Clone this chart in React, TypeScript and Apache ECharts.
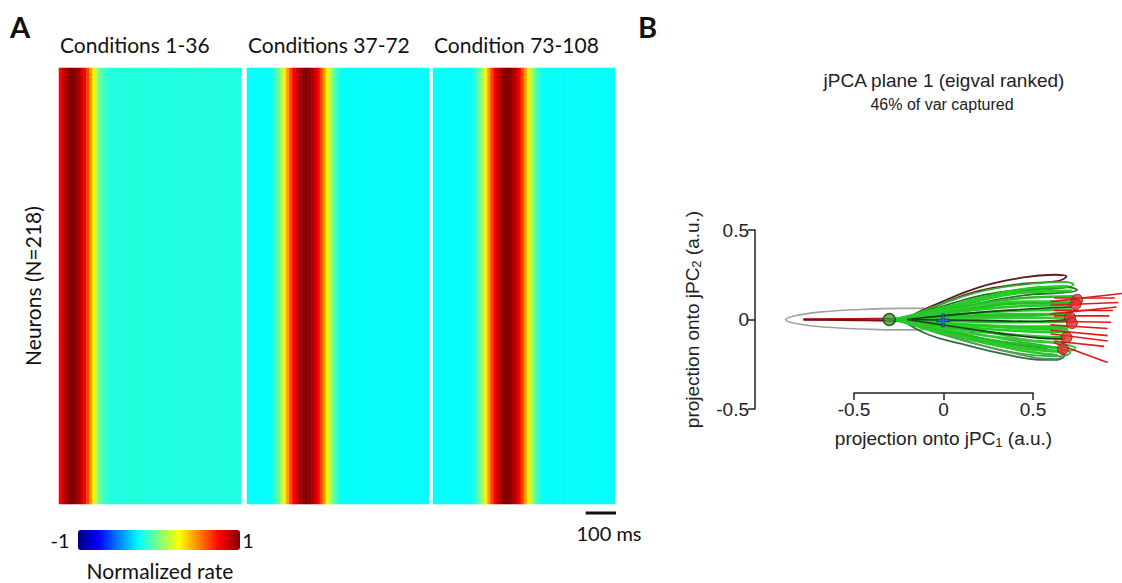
import React, { useEffect, useRef } from "react";
import * as echarts from "echarts";

// ---------- Panel A data ----------
const timeBins: string[] = Array.from({ length: 60 }, (_, i) => `${i * 10}`);
const neuronRows = ["N=218"];
const panelTitles = ["Conditions 1-36", "Conditions 37-72", "Condition 73-108"];

const rate1 = [
  0.76, 0.85, 0.92, 0.97, 1.0, 0.97, 0.92, 0.85, 0.76, 0.62, 0.45, 0.28, 0.1, -0.04, -0.12, -0.16,
  -0.18, -0.19, -0.19, -0.18, -0.19, -0.19, -0.18, -0.19, -0.19, -0.19, -0.18, -0.19, -0.19, -0.19,
  -0.19, -0.18, -0.19, -0.19, -0.19, -0.18, -0.19, -0.19, -0.19, -0.19, -0.18, -0.19, -0.19, -0.19,
  -0.19, -0.18, -0.19, -0.19, -0.19, -0.19, -0.18, -0.19, -0.19, -0.19, -0.19, -0.18, -0.19, -0.19,
  -0.19, -0.19,
];
const rate2 = [
  -0.24, -0.24, -0.24, -0.24, -0.24, -0.24, -0.24, -0.24, -0.2, -0.13, -0.03, 0.1, 0.28, 0.45,
  0.62, 0.76, 0.85, 0.92, 0.97, 1.0, 0.97, 0.92, 0.85, 0.76, 0.62, 0.45, 0.28, 0.1, -0.03, -0.13,
  -0.2, -0.24, -0.24, -0.24, -0.24, -0.24, -0.24, -0.24, -0.24, -0.24, -0.24, -0.24, -0.24,
  -0.24, -0.24, -0.24, -0.24, -0.24, -0.24, -0.24, -0.24, -0.24, -0.24, -0.24, -0.24, -0.24,
  -0.24, -0.24, -0.24, -0.24,
];
const rate3 = [
  -0.24, -0.24, -0.24, -0.24, -0.24, -0.24, -0.24, -0.24, -0.24, -0.24, -0.24, -0.24, -0.24,
  -0.2, -0.13, -0.03, 0.1, 0.28, 0.45, 0.62, 0.76, 0.85, 0.92, 0.97, 1.0, 0.97, 0.92, 0.85, 0.76,
  0.62, 0.45, 0.28, 0.1, -0.03, -0.13, -0.2, -0.24, -0.24, -0.24, -0.24, -0.24, -0.24, -0.24,
  -0.24, -0.24, -0.24, -0.24, -0.24, -0.24, -0.24, -0.24, -0.24, -0.24, -0.24, -0.24, -0.24,
  -0.24, -0.24, -0.24, -0.24,
];
const colorbarLabels = ["-1", "1"];

// ---------- Panel B data (jPC1, jPC2) ----------
const grayLoop = [
  [-0.1, 0.062], [-0.25, 0.062], [-0.46, 0.056], [-0.65, 0.045], [-0.8, 0.026], [-0.88, 0.0],
  [-0.8, -0.027], [-0.62, -0.045], [-0.45, -0.053], [-0.25, -0.058], [-0.1, -0.055],
];
const leftTails = [
  [[-0.78, 0.002], [-0.5, 0.003], [-0.3, 0.004], [-0.18, 0.0]],
  [[-0.78, -0.002], [-0.5, -0.004], [-0.3, -0.007], [-0.18, -0.014]],
];
const upperLoops = [
  [[-0.2, 0.01], [-0.05, 0.08], [0.2, 0.18], [0.45, 0.235], [0.62, 0.25], [0.69, 0.24], [0.64, 0.215], [0.45, 0.2], [0.2, 0.16], [0.0, 0.09], [-0.15, 0.02]],
  [[-0.2, 0.01], [0.0, 0.09], [0.25, 0.165], [0.5, 0.2], [0.68, 0.21], [0.73, 0.195], [0.66, 0.175], [0.45, 0.16], [0.2, 0.12], [0.0, 0.06]],
  [[-0.2, 0.0], [0.05, 0.09], [0.3, 0.15], [0.55, 0.175], [0.7, 0.18], [0.75, 0.165], [0.67, 0.15], [0.45, 0.135], [0.2, 0.09]],
];
const lowerLoops = [
  [[-0.22, -0.01], [-0.08, -0.085], [0.1, -0.135], [0.35, -0.195], [0.55, -0.225], [0.64, -0.225], [0.68, -0.2], [0.6, -0.17], [0.4, -0.14], [0.15, -0.09], [-0.05, -0.035]],
  [[-0.22, -0.01], [0.0, -0.085], [0.3, -0.165], [0.52, -0.2], [0.66, -0.205], [0.71, -0.185], [0.62, -0.155], [0.4, -0.12], [0.15, -0.07]],
  [[-0.2, -0.01], [0.05, -0.07], [0.3, -0.13], [0.55, -0.165], [0.7, -0.175], [0.74, -0.16], [0.65, -0.135], [0.45, -0.11], [0.2, -0.06]],
  [[-0.2, 0.0], [-0.05, -0.06], [0.2, -0.14], [0.45, -0.2], [0.6, -0.22], [0.66, -0.215], [0.6, -0.19]],
];
const midRays = [
  [[-0.27, 0.0], [0.1, 0.09], [0.45, 0.17], [0.7, 0.185]],
  [[-0.27, 0.0], [0.1, 0.08], [0.45, 0.15], [0.72, 0.16]],
  [[-0.27, 0.0], [0.1, 0.07], [0.45, 0.12], [0.74, 0.13]],
  [[-0.27, 0.0], [0.1, 0.06], [0.45, 0.1], [0.74, 0.1]],
  [[-0.27, 0.0], [0.1, 0.05], [0.45, 0.09], [0.73, 0.09]],
  [[-0.27, 0.0], [0.1, 0.045], [0.45, 0.075], [0.73, 0.08]],
  [[-0.27, 0.0], [0.1, 0.03], [0.45, 0.05], [0.72, 0.055]],
  [[-0.27, 0.0], [0.1, 0.02], [0.45, 0.03], [0.72, 0.03]],
  [[-0.27, 0.0], [0.1, 0.015], [0.45, 0.02], [0.72, 0.04]],
  [[-0.27, 0.0], [0.1, 0.005], [0.45, 0.01], [0.71, 0.01]],
  [[-0.27, 0.0], [0.1, -0.01], [0.45, -0.015], [0.7, -0.01]],
  [[-0.27, 0.0], [0.1, -0.025], [0.45, -0.04], [0.7, -0.04]],
  [[-0.27, 0.0], [0.1, -0.03], [0.45, -0.05], [0.7, -0.055]],
  [[-0.27, 0.0], [0.1, -0.04], [0.45, -0.065], [0.7, -0.07]],
  [[-0.27, 0.0], [0.1, -0.055], [0.45, -0.09], [0.69, -0.1]],
  [[-0.27, 0.0], [0.1, -0.07], [0.45, -0.115], [0.68, -0.13]],
  [[-0.27, 0.0], [0.1, -0.085], [0.45, -0.14], [0.67, -0.16]],
  [[-0.27, 0.0], [0.1, -0.095], [0.45, -0.16], [0.66, -0.18]],
  [[-0.27, 0.0], [0.1, -0.1], [0.45, -0.175], [0.64, -0.2]],
];
const darkRays = [
  [[-0.2, 0.0], [0.2, -0.005], [0.5, -0.01], [0.7, 0.0]],
  [[-0.2, 0.0], [0.2, -0.06], [0.5, -0.1], [0.68, -0.11]],
  [[-0.2, 0.0], [0.2, 0.04], [0.5, 0.06], [0.72, 0.07]],
];
const redTails = [
  [[0.6, 0.1], [1.0, 0.145]],
  [[0.62, 0.12], [0.96, 0.12]],
  [[0.6, 0.08], [0.98, 0.095]],
  [[0.6, 0.03], [0.97, 0.07]],
  [[0.62, 0.05], [0.95, 0.05]],
  [[0.62, 0.02], [0.93, 0.02]],
  [[0.6, -0.01], [0.94, -0.015]],
  [[0.6, -0.03], [0.92, -0.05]],
  [[0.6, -0.06], [0.92, -0.09]],
  [[0.6, -0.08], [0.92, -0.12]],
  [[0.62, -0.12], [0.9, -0.15]],
  [[0.62, -0.13], [0.92, -0.24]],
];
const redEnds = [
  [0.75, 0.11], [0.74, 0.085], [0.71, 0.01], [0.72, -0.02], [0.69, -0.1], [0.67, -0.165],
];
const startPoint = [[-0.3, 0.0]];
const centerPoint = [[0.0, -0.005]];

// ---------- styles ----------
const jet = ["#00007F", "#0000FF", "#007FFF", "#00FFFF", "#7FFF7F", "#FFFF00", "#FF7F00", "#FF0000", "#7F0000"];
const upperColors = ["#5a1c1c", "#2fb52f", "#2a6f2a"];
const lowerColors = ["#2f6f3f", "#36b03c", "#3cc43c", "#6a8a6a"];
const rayColors = ["#22cc22", "#1fd11f", "#2bbd2b", "#33cc33", "#20c020", "#28c828"];
const fontA = "Lato, 'Open Sans', sans-serif";
const fontB = "'Liberation Sans', Arial, sans-serif";

export default function App() {
  const ref = useRef<HTMLDivElement>(null);
  useEffect(() => {
    if (!ref.current) return;
    const chart = echarts.init(ref.current, undefined, { renderer: "svg" });
    const heatLeft = [59, 247, 433];
    const heatTop = 68, heatW = 182, heatH = 436;
    const rates = [rate1, rate2, rate3];

    const lineSeries = (data: number[][], color: string, width: number, z = 2) => ({
      type: "line",
      xAxisIndex: 3,
      yAxisIndex: 3,
      data,
      smooth: 0.45,
      symbol: "none",
      silent: true,
      z,
      lineStyle: { color, width },
    });

    const series: any[] = [];
    rates.forEach((r, i) => {
      series.push({
        type: "heatmap",
        xAxisIndex: i,
        yAxisIndex: i,
        data: r.map((v, j) => [j, 0, v]),
        itemStyle: { borderWidth: 0 },
        emphasis: { disabled: true },
        silent: true,
      });
    });
    series.push(lineSeries(grayLoop, "#a0a0a0", 1.6));
    leftTails.forEach((t, i) => series.push(lineSeries(t, i === 0 ? "#b01818" : "#7a1010", 2)));
    lowerLoops.forEach((l, i) => series.push(lineSeries(l, lowerColors[i], 1.8)));
    upperLoops.forEach((l, i) => series.push(lineSeries(l, upperColors[i], 1.8)));
    midRays.forEach((l, i) => series.push(lineSeries(l, rayColors[i % rayColors.length], 2.6)));
    darkRays.forEach((l) => series.push(lineSeries(l, "#1d3d1d", 1.6)));
    redTails.forEach((l) => series.push(lineSeries(l, "#e01a1a", 1.6, 3)));
    series.push({
      type: "scatter", xAxisIndex: 3, yAxisIndex: 3, data: redEnds, symbolSize: 11, z: 4, silent: true,
      itemStyle: { color: "#e23030", borderColor: "#8a1a1a", borderWidth: 1 },
    });
    series.push({
      type: "scatter", xAxisIndex: 3, yAxisIndex: 3, data: startPoint, symbolSize: 12, z: 5, silent: true,
      itemStyle: { color: "#2fa82f", borderColor: "#163816", borderWidth: 1.5 },
    });
    series.push({
      type: "scatter", xAxisIndex: 3, yAxisIndex: 3, data: centerPoint, symbolSize: 13, z: 5, silent: true,
      symbol: "path://M4,0H6V4H10V6H6V10H4V6H0V4H4Z",
      itemStyle: { color: "#2060ff", borderColor: "#1a2a5a", borderWidth: 0.8 },
    });

    const nameRich = {
      sub: { fontSize: 13, fontFamily: fontB, color: "#222", padding: [9, 0, 0, 0] },
    };

    const graphic: any[] = [
      { type: "text", left: 10, top: 12, style: { text: "A", font: `bold 29px ${fontA}`, fill: "#111" } },
      { type: "text", left: 638, top: 12, style: { text: "B", font: `bold 29px ${fontA}`, fill: "#111" } },
      ...panelTitles.map((t, i) => ({
        type: "text", x: heatLeft[i] + 1, y: 44,
        style: { text: t, font: `21px ${fontA}`, fill: "#111", textVerticalAlign: "middle" },
      })),
      {
        type: "text", x: 32, y: heatTop + heatH / 2, rotation: Math.PI / 2,
        style: { text: "Neurons (N=218)", font: `21px ${fontA}`, fill: "#111", textAlign: "center", textVerticalAlign: "middle" },
      },
      { type: "text", x: 60, y: 540, style: { text: colorbarLabels[0], font: `20px ${fontA}`, fill: "#111", textAlign: "center", textVerticalAlign: "middle" } },
      { type: "text", x: 248, y: 540, style: { text: colorbarLabels[1], font: `20px ${fontA}`, fill: "#111", textAlign: "center", textVerticalAlign: "middle" } },
      { type: "text", x: 160, y: 570, style: { text: "Normalized rate", font: `21px ${fontA}`, fill: "#111", textAlign: "center", textVerticalAlign: "middle" } },
      {
        type: "line",
        shape: { x1: heatLeft[2] + heatW + 1 - (10 * heatW) / timeBins.length, y1: 513, x2: heatLeft[2] + heatW + 1, y2: 513 },
        style: { stroke: "#111", lineWidth: 3 },
      },
      { type: "text", x: 609, y: 533, style: { text: "100 ms", font: `20px ${fontA}`, fill: "#111", textAlign: "center", textVerticalAlign: "middle" } },
      { type: "text", x: 944, y: 80, style: { text: "jPCA plane 1 (eigval ranked)", font: `19px ${fontB}`, fill: "#222", textAlign: "center", textVerticalAlign: "middle" } },
      { type: "text", x: 942, y: 104, style: { text: "46% of var captured", font: `16px ${fontB}`, fill: "#222", textAlign: "center", textVerticalAlign: "middle" } },
    ];

    const option: any = {
      animation: false,
      backgroundColor: "#ffffff",
      grid: [
        ...heatLeft.map((l) => ({ left: l, top: heatTop, width: heatW, height: heatH })),
        { left: 764, top: 230, width: 358, height: 179 },
        { left: 854, top: 230, width: 179, height: 163 },
        { left: 755, top: 230, width: 100, height: 179 },
      ],
      xAxis: [
        ...heatLeft.map((_, i) => ({ type: "category", gridIndex: i, data: timeBins, show: false })),
        { type: "value", gridIndex: 3, min: -1, max: 1, show: false },
        {
          type: "value", gridIndex: 4, min: -0.5, max: 0.5, interval: 0.5,
          axisLine: { show: true, lineStyle: { color: "#222", width: 1.5 } },
          axisTick: { show: true, inside: false, length: 7, lineStyle: { color: "#222", width: 1.5 } },
          axisLabel: { fontSize: 19, color: "#222", fontFamily: fontB, margin: 7 },
          splitLine: { show: false },
          name: "projection onto jPC{sub|1} (a.u.)",
          nameLocation: "middle",
          nameGap: 34,
          nameTextStyle: { fontSize: 19, color: "#222", fontFamily: fontB, rich: nameRich },
        },
        { type: "value", gridIndex: 5, show: false },
      ],
      yAxis: [
        ...heatLeft.map((_, i) => ({ type: "category", gridIndex: i, data: neuronRows, show: false })),
        { type: "value", gridIndex: 3, min: -0.5, max: 0.5, show: false },
        { type: "value", gridIndex: 4, show: false },
        {
          type: "value", gridIndex: 5, min: -0.5, max: 0.5, interval: 0.5, position: "left",
          axisLine: { show: true, lineStyle: { color: "#222", width: 1.5 } },
          axisTick: { show: true, inside: false, length: 7, lineStyle: { color: "#222", width: 1.5 } },
          axisLabel: { fontSize: 19, color: "#222", fontFamily: fontB, margin: 6 },
          splitLine: { show: false },
          name: "projection onto jPC{sub|2} (a.u.)",
          nameLocation: "middle",
          nameGap: 52,
          nameRotate: 90,
          nameTextStyle: { fontSize: 19, color: "#222", fontFamily: fontB, rich: nameRich },
        },
      ],
      visualMap: {
        type: "continuous",
        min: -1,
        max: 1,
        seriesIndex: [0, 1, 2],
        orient: "horizontal",
        left: 78,
        top: 530,
        padding: 0,
        itemWidth: 20,
        itemHeight: 162,
        calculable: false,
        hoverLink: false,
        inRange: { color: jet },
      },
      graphic,
      series,
    };
    chart.setOption(option);
    return () => chart.dispose();
  }, []);

  return (
    <div
      ref={ref}
      style={{ position: "fixed", left: 0, top: 0, width: 1122, height: 583, background: "#fff" }}
    />
  );
}
